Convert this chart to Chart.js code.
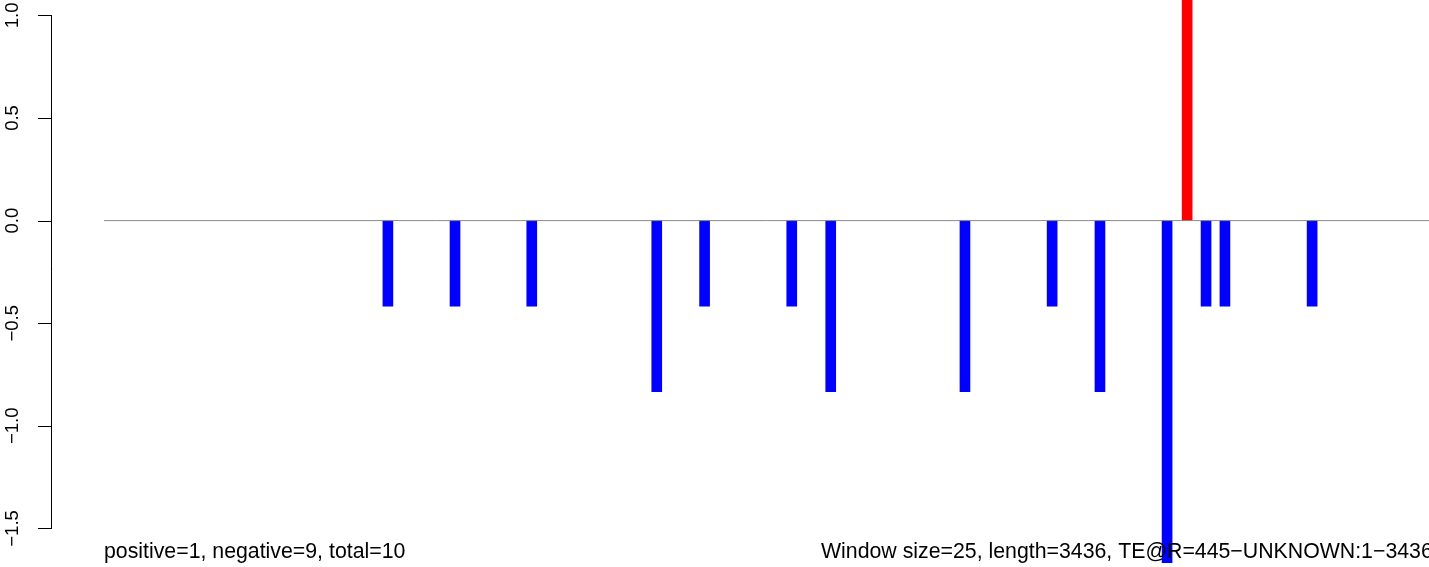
<!DOCTYPE html>
<html>
<head>
<meta charset="utf-8">
<script src="https://cdn.jsdelivr.net/npm/chart.js@4/dist/chart.umd.min.js"></script>
<style>
  html, body { margin: 0; padding: 0; background: #fff; }
  canvas { display: block; }
</style>
</head>
<body>
<canvas id="te-chart" width="1429" height="567"></canvas>
<script>
// window positions along the sequence (bp) and their scores
const positions = [737, 911, 1110, 1434, 1558, 1784, 1885, 2233, 2459, 2583, 2757, 2809, 2858, 2907, 3133];
const scores = [-0.4167, -0.4167, -0.4167, -0.8333, -0.4167, -0.4167, -0.8333, -0.8333, -0.4167, -0.8333, -1.6667, 1.6667, -0.4167, -0.4167, -0.4167];
const seqStart = 1;
const seqLength = 3436;
const yTicks = [1.0, 0.5, 0.0, -0.5, -1.0, -1.5];
const yTickLabels = ['1.0', '0.5', '0.0', '\u22120.5', '\u22121.0', '\u22121.5'];
const leftNote = 'positive=1, negative=9, total=10';
const rightNote = 'Window size=25, length=3436, TE@R=445\u2212UNKNOWN:1\u22123436';

const TICK_FONT = '18.5px "Liberation Sans", Arial, sans-serif';
const NOTE_FONT = '21.3px "Liberation Sans", Arial, sans-serif';

// R-style y axis + bottom notes
const rDecor = {
    id: 'rDecor',
    afterDatasetsDraw(chart) {
        const ctx = chart.ctx;
        const y = chart.scales.y;
        const axisX = chart.chartArea.left;
        ctx.save();
        ctx.strokeStyle = '#000';
        ctx.lineWidth = 1;
        ctx.beginPath();
        ctx.moveTo(axisX + 0.5, y.getPixelForValue(yTicks[0]));
        ctx.lineTo(axisX + 0.5, y.getPixelForValue(yTicks[yTicks.length - 1]));
        yTicks.forEach(v => {
            const py = Math.round(y.getPixelForValue(v)) + 0.5;
            ctx.moveTo(axisX - 13, py);
            ctx.lineTo(axisX + 1, py);
        });
        ctx.stroke();

        ctx.fillStyle = '#000';
        ctx.font = TICK_FONT;
        ctx.textAlign = 'center';
        ctx.textBaseline = 'middle';
        yTicks.forEach((v, i) => {
            ctx.save();
            ctx.translate(13, y.getPixelForValue(v));
            ctx.rotate(-Math.PI / 2);
            ctx.fillText(yTickLabels[i], 0, 0);
            ctx.restore();
        });

        ctx.font = NOTE_FONT;
        ctx.textAlign = 'left';
        ctx.textBaseline = 'alphabetic';
        ctx.fillText(leftNote, 104, 558);
        ctx.fillText(rightNote, 821, 558);
        ctx.restore();
    }
};

const barData = positions.map((p, i) => ({ x: p, y: scores[i] }));

new Chart(document.getElementById('te-chart'), {
    type: 'bar',
    data: {
        datasets: [
            {
                type: 'line',
                data: [{ x: seqStart, y: 0 }, { x: seqLength, y: 0 }],
                borderColor: '#8a8a8a',
                borderWidth: 1,
                pointRadius: 0,
                order: 0
            },
            {
                data: barData,
                backgroundColor: scores.map(v => v > 0 ? '#ff0000' : '#0000ff'),
                barThickness: 10,
                borderWidth: 0,
                order: 1
            }
        ]
    },
    options: {
        responsive: false,
        animation: false,
        devicePixelRatio: 1,
        layout: { padding: { left: 51, right: 0, top: 0, bottom: 0 } },
        plugins: { legend: { display: false }, tooltip: { enabled: false } },
        scales: {
            x: {
                type: 'linear',
                display: false,
                offset: false,
                min: seqStart - 0.04 * (seqLength - seqStart),
                max: seqLength
            },
            y: {
                type: 'linear',
                display: false,
                min: -1.688,
                max: 1.075
            }
        }
    },
    plugins: [rDecor]
});
</script>
</body>
</html>
